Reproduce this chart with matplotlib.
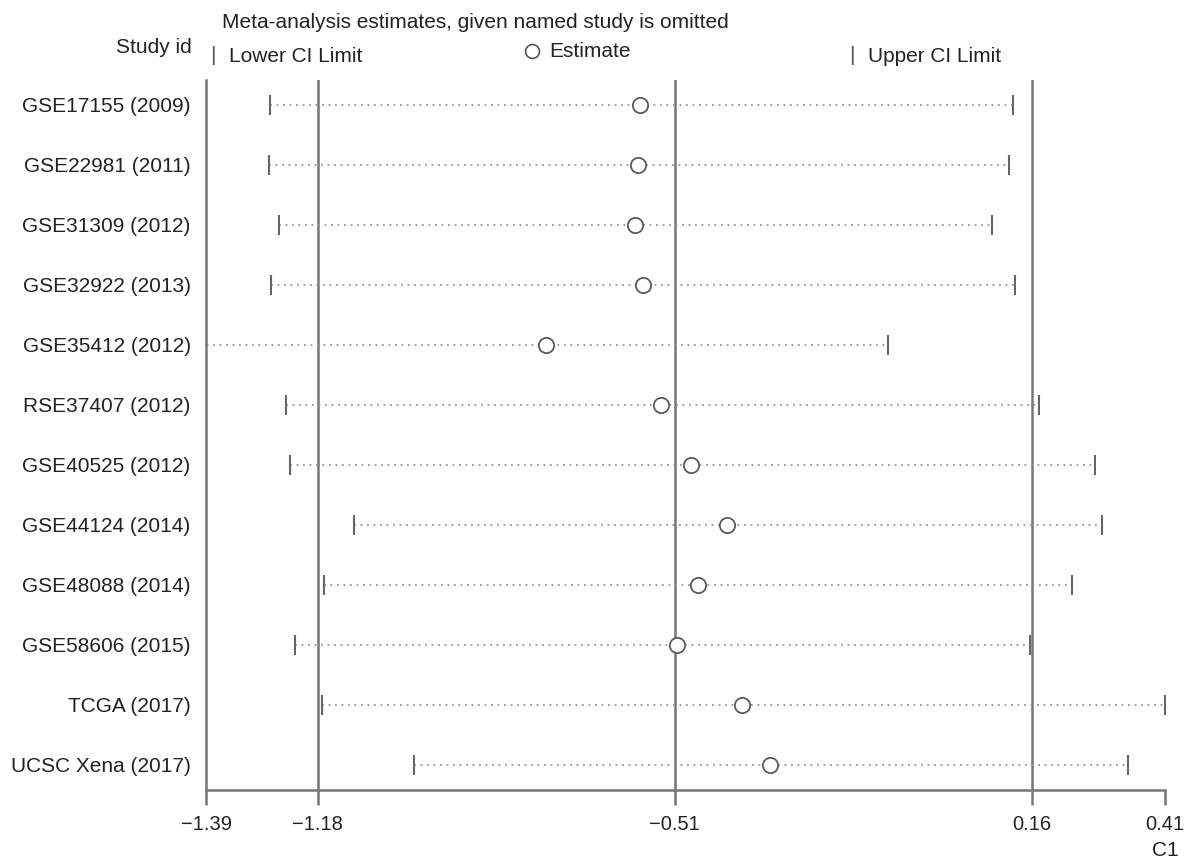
import numpy as np
import matplotlib
matplotlib.use("Agg")
import matplotlib.pyplot as plt
from matplotlib.lines import Line2D

studies = ["GSE17155 (2009)", "GSE22981 (2011)", "GSE31309 (2012)", "GSE32922 (2013)",
           "GSE35412 (2012)", "RSE37407 (2012)", "GSE40525 (2012)", "GSE44124 (2014)",
           "GSE48088 (2014)", "GSE58606 (2015)", "TCGA (2017)", "UCSC Xena (2017)"]
estimate = [-0.575, -0.579, -0.585, -0.570, -0.752, -0.536, -0.480, -0.412,
            -0.467, -0.506, -0.384, -0.331]
lower = [-1.270, -1.272, -1.253, -1.268, -1.45, -1.240, -1.232, -1.112,
         -1.169, -1.223, -1.172, -1.000]
upper = [0.125, 0.117, 0.085, 0.128, -0.110, 0.173, 0.279, 0.292,
         0.235, 0.157, 0.410, 0.340]
ref_lines = [-1.18, -0.51, 0.16]
xticks = [-1.39, -1.18, -0.51, 0.16, 0.41]

plt.rcParams['font.family'] = ['Liberation Sans', 'DejaVu Sans']
W, H = 1192, 864
fig = plt.figure(figsize=(W / 100, H / 100), dpi=100)
ax = fig.add_axes([206 / W, (H - 790) / H, (1165 - 206) / W, (790 - 80) / H])

line_c = '#767676'
dot_c = '#959595'
txt_c = '#222222'
y = np.arange(1, len(studies) + 1)

for xv in ref_lines:
    ax.axvline(xv, color=line_c, lw=1.8, zorder=1)

ax.hlines(y, lower, upper, colors=dot_c, linestyles=(0, (1, 2.6)), lw=1.3, zorder=2)
ax.plot(lower, y, linestyle='none', marker='|', ms=15, mew=1.5, color='#666666', zorder=3)
ax.plot(upper, y, linestyle='none', marker='|', ms=15, mew=1.5, color='#666666', zorder=3)
ax.plot(estimate, y, linestyle='none', marker='o', ms=11, mfc='white', mec='#5a5a5a',
        mew=1.3, zorder=4)

ax.set_xlim(-1.39, 0.41)
ax.set_ylim(len(studies) + 25 / 60, 1 - 25 / 60)
ax.set_yticks(y)
ax.set_yticklabels(studies, fontsize=15, color=txt_c)
ax.set_xticks(xticks)
ax.set_xticklabels([f"{t:.2f}".replace('-', '\u2212') for t in xticks], fontsize=14.5,
                   color=txt_c)
ax.tick_params(axis='y', length=0, pad=11)
ax.tick_params(axis='x', length=11, width=1.8, color=line_c, pad=7)
for s in ['top', 'right']:
    ax.spines[s].set_visible(False)
for s in ['left', 'bottom']:
    ax.spines[s].set_color(line_c)
    ax.spines[s].set_linewidth(1.8)

def ftext(px, py, s, color=txt_c, **kw):
    fig.text(px / W, 1 - py / H, s, fontsize=15, color=color, va='baseline', **kw)

ftext(222, 28, "Meta-analysis estimates, given named study is omitted", ha='left')
ftext(192, 53, "Study id", ha='right')
ftext(210, 61, "|", ha='left', color='#555555')
ftext(229, 62, "Lower CI Limit", ha='left')
fig.add_artist(Line2D([532 / W], [1 - 51 / H], marker='o', ms=10, mfc='white',
                      mec='#555555', mew=1.2, transform=fig.transFigure))
ftext(549, 57, "Estimate", ha='left')
ftext(849, 61, "|", ha='left', color='#555555')
ftext(868, 62, "Upper CI Limit", ha='left')
ftext(1165, 856, "C1", ha='center')

fig.savefig("out.png", dpi=100, facecolor='white')
